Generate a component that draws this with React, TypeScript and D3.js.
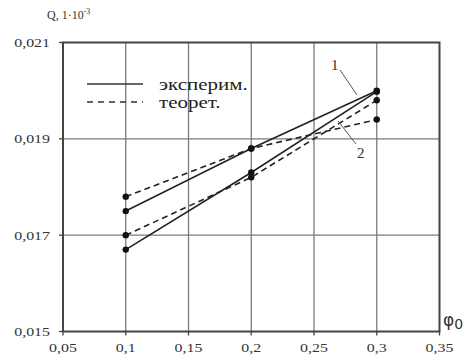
import React from "react";
import * as d3 from "d3";

const phi = [0.1, 0.2, 0.3];
const expUpper = [0.0175, 0.0188, 0.02];
const expLower = [0.0167, 0.0183, 0.01998];
const theoUpper = [0.0178, 0.0188, 0.0194];
const theoLower = [0.017, 0.0182, 0.0198];
const xTicks = [0.05, 0.1, 0.15, 0.2, 0.25, 0.3, 0.35];
const yTicks = [0.015, 0.017, 0.019, 0.021];
const xTickLabels = ["0,05", "0,1", "0,15", "0,2", "0,25", "0,3", "0,35"];
const yTickLabels = ["0,015", "0,017", "0,019", "0,021"];

const font = "'Liberation Serif', 'Times New Roman', serif";

function SText(props: { x: number; y: number; size: number; anchor?: string; sx?: number; fill?: string; children: React.ReactNode }) {
  const sx = props.sx ?? 1.18;
  return (
    <text
      transform={`translate(${props.x},${props.y}) scale(${sx},1)`}
      textAnchor={props.anchor || "start"}
      fontFamily={font}
      fontSize={props.size}
      fill={props.fill || "#333"}
    >
      {props.children}
    </text>
  );
}

export default function App() {
  const W = 468, H = 358;
  const x = d3.scaleLinear().domain([0.05, 0.35]).range([63, 439.5]);
  const y = d3.scaleLinear().domain([0.015, 0.021]).range([331.5, 42.5]);
  const line = d3.line<number>().x((_, i) => x(phi[i])).y((d) => y(d));
  const series = [
    { v: expUpper, dash: "" },
    { v: expLower, dash: "" },
    { v: theoUpper, dash: "6,4" },
    { v: theoLower, dash: "6,4" },
  ];
  return (
    <svg width={W} height={H} style={{ position: "absolute", left: 0, top: 0, background: "#fff" }}>
      {xTicks.slice(1, -1).map((t) => (
        <line key={"gx" + t} x1={x(t)} x2={x(t)} y1={y(0.021)} y2={y(0.015)} stroke="#7a7a7a" strokeWidth={1.3} />
      ))}
      {yTicks.slice(1, -1).map((t) => (
        <line key={"gy" + t} x1={x(0.05)} x2={x(0.35)} y1={y(t)} y2={y(t)} stroke="#7a7a7a" strokeWidth={1.3} />
      ))}
      <rect x={x(0.05)} y={y(0.021)} width={x(0.35) - x(0.05)} height={y(0.015) - y(0.021)} fill="none" stroke="#444" strokeWidth={2} />
      {xTicks.map((t, i) => (
        <g key={"xt" + t}>
          <line x1={x(t)} x2={x(t)} y1={y(0.015)} y2={y(0.015) + 4} stroke="#444" strokeWidth={1.3} />
          <SText x={x(t)} y={351.5} size={13.5} anchor="middle">{xTickLabels[i]}</SText>
        </g>
      ))}
      {yTicks.map((t, i) => (
        <g key={"yt" + t}>
          <line x1={x(0.05) - 4} x2={x(0.05)} y1={y(t)} y2={y(t)} stroke="#444" strokeWidth={1.3} />
          <SText x={50} y={y(t) + 4.5} size={13.5} anchor="end">{yTickLabels[i]}</SText>
        </g>
      ))}
      {series.map((s, k) => (
        <g key={"s" + k}>
          <path d={line(s.v) || ""} fill="none" stroke="#222" strokeWidth={1.6} strokeDasharray={s.dash} />
          {s.v.map((v, i) => (
            <circle key={i} cx={x(phi[i])} cy={y(v)} r={3.2} fill="#111" />
          ))}
        </g>
      ))}
      <line x1={340} y1={70} x2={357} y2={95} stroke="#555" strokeWidth={1} />
      <SText x={331} y={70} size={15} sx={1}>1</SText>
      <line x1={338} y1={121} x2={356} y2={144} stroke="#555" strokeWidth={1} />
      <SText x={357} y={158} size={15} sx={1}>2</SText>
      <line x1={87} x2={143} y1={84} y2={84} stroke="#333" strokeWidth={1.4} />
      <line x1={87} x2={143} y1={102} y2={102} stroke="#333" strokeWidth={1.4} strokeDasharray="6,5" />
      <SText x={159} y={89.5} size={17.5} sx={1.2} fill="#222">эксперим.</SText>
      <SText x={159} y={107.5} size={17.5} sx={1.2} fill="#222">теорет.</SText>
      <SText x={47} y={19} size={12} sx={1}>
        Q, 1·10<tspan dy={-5} fontSize={8}>-3</tspan>
      </SText>
      <text x={443} y={326} fontFamily="'DejaVu Sans', sans-serif" fontSize={17} fill="#333">
        φ<tspan dy={3} fontSize={14}>0</tspan>
      </text>
    </svg>
  );
}
